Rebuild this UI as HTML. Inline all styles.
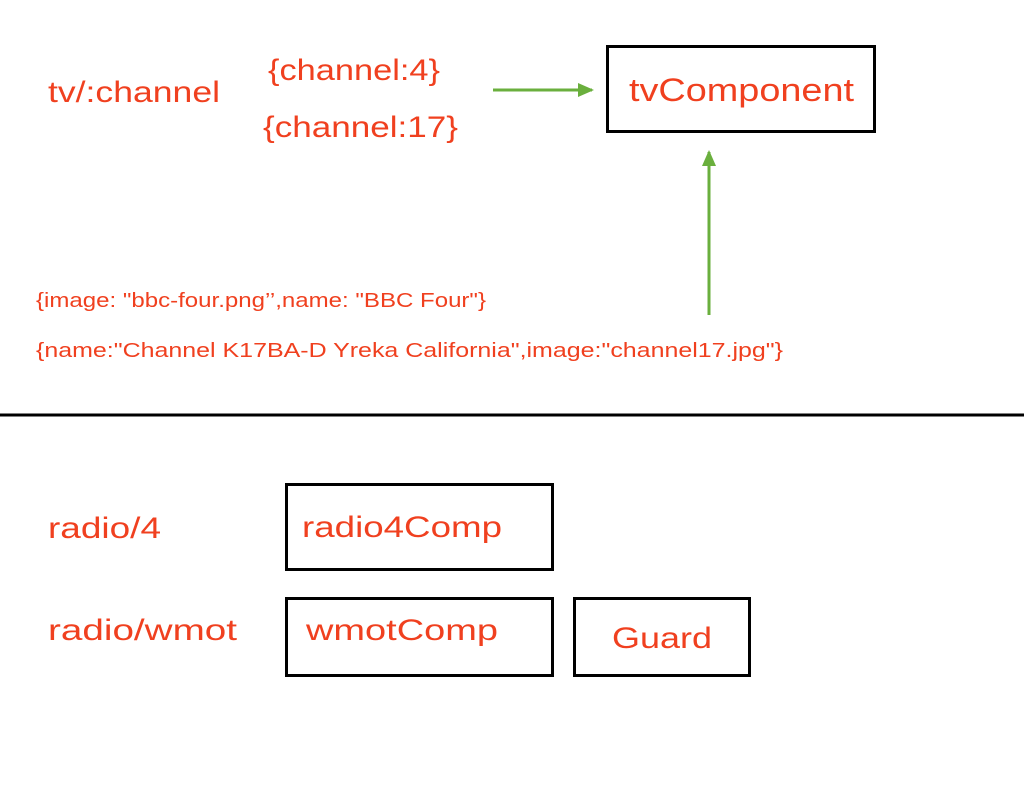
<!DOCTYPE html>
<html><head><meta charset="utf-8"><style>
html,body{margin:0;padding:0;background:#fff;width:1024px;height:800px;overflow:hidden}
text{font-family:"Liberation Sans",sans-serif;fill:#f0401f}
</style></head><body>
<svg width="1024" height="800" viewBox="0 0 1024 800" xmlns="http://www.w3.org/2000/svg">
<defs>
<marker id="ah" markerWidth="16" markerHeight="14" refX="14" refY="7" orient="auto" markerUnits="userSpaceOnUse" viewBox="0 0 16 14">
<path d="M0,0 L16,7 L0,14 z" fill="#6aaf3d"/></marker>
</defs>
<text x="48" y="102" font-size="30" textLength="172" lengthAdjust="spacingAndGlyphs">tv/:channel</text>
<text x="268" y="80" font-size="30" textLength="172" lengthAdjust="spacingAndGlyphs">{channel:4}</text>
<text x="263" y="137" font-size="30" textLength="195" lengthAdjust="spacingAndGlyphs">{channel:17}</text>
<line x1="493" y1="90" x2="592" y2="90" stroke="#6aaf3d" stroke-width="3" marker-end="url(#ah)"/>
<rect x="607.5" y="46.5" width="267" height="85" fill="none" stroke="#000" stroke-width="3"/>
<text x="629" y="101" font-size="32" textLength="225" lengthAdjust="spacingAndGlyphs">tvComponent</text>
<line x1="709" y1="315" x2="709" y2="152" stroke="#6aaf3d" stroke-width="3" marker-end="url(#ah)"/>
<text x="36" y="307" font-size="20" textLength="450" lengthAdjust="spacingAndGlyphs">{image: "bbc-four.png’’,name: "BBC Four"}</text>
<text x="36" y="357" font-size="20" textLength="747" lengthAdjust="spacingAndGlyphs">{name:"Channel K17BA-D Yreka California",image:"channel17.jpg"}</text>
<line x1="0" y1="415" x2="1024" y2="415" stroke="#000" stroke-width="3"/>
<text x="48" y="538" font-size="30" textLength="113" lengthAdjust="spacingAndGlyphs">radio/4</text>
<rect x="286.5" y="484.5" width="266" height="85" fill="none" stroke="#000" stroke-width="3"/>
<text x="302" y="537" font-size="30" textLength="200" lengthAdjust="spacingAndGlyphs">radio4Comp</text>
<text x="48" y="640" font-size="30" textLength="189" lengthAdjust="spacingAndGlyphs">radio/wmot</text>
<rect x="286.5" y="598.5" width="266" height="77" fill="none" stroke="#000" stroke-width="3"/>
<text x="306" y="640" font-size="30" textLength="192" lengthAdjust="spacingAndGlyphs">wmotComp</text>
<rect x="574.5" y="598.5" width="175" height="77" fill="none" stroke="#000" stroke-width="3"/>
<text x="612" y="648" font-size="30" textLength="100" lengthAdjust="spacingAndGlyphs">Guard</text>
</svg>
</body></html>
